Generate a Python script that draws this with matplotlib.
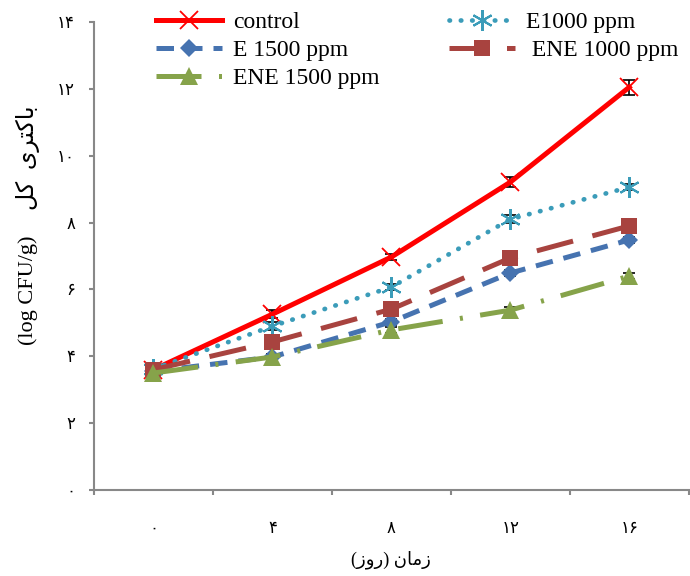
import matplotlib
matplotlib.use("Agg")
import matplotlib.pyplot as plt
from matplotlib.ticker import FixedLocator

plt.rcParams['font.family'] = ['Liberation Serif', 'DejaVu Sans']

# days of storage (category axis) and persian tick labels
days = [0, 4, 8, 12, 16]
day_labels = ["\u06f0", "\u06f4", "\u06f8", "\u06f1\u06f2", "\u06f1\u06f6"]
y_ticks = [0, 2, 4, 6, 8, 10, 12, 14]
y_labels = ["\u06f0", "\u06f2", "\u06f4", "\u06f6", "\u06f8",
            "\u06f1\u06f0", "\u06f1\u06f2", "\u06f1\u06f4"]

control = [3.6, 5.26, 6.97, 9.21, 12.05]
control_err = [0.05, 0.12, 0.1, 0.15, 0.22]
e1000 = [3.62, 4.9, 6.07, 8.1, 9.06]
e1000_err = [0.05, 0.12, 0.1, 0.12, 0.1]
e1500 = [3.55, 3.98, 5.03, 6.49, 7.48]
e1500_err = [0.05, 0.08, 0.1, 0.1, 0.1]
ene1000 = [3.6, 4.43, 5.41, 6.94, 7.9]
ene1000_err = [0.05, 0.1, 0.1, 0.1, 0.1]
ene1500 = [3.5, 3.98, 4.79, 5.38, 6.4]
ene1500_err = [0.05, 0.1, 0.1, 0.1, 0.1]

# persian text written in visual order with presentation forms
xlabel = "(\u0632\u0648\u0631) \u0646\uFE8E\uFEE3\u0632"
ylabel_fa = "\uFEDE\uFB90  \uFBFC\uFEAE\uFE98\uFB90\uFE8E\uFE91"
ylabel_unit = "(log CFU/g)"

fig = plt.figure(figsize=(6.9, 5.76), dpi=100)
ax = fig.add_axes([0.1362, 0.1493, 0.862, 0.8125])

x = list(range(len(days)))

series = [
    ("control", control, control_err, dict(color="#FF0000", lw=3.6, ls="-",
                                          marker="x", ms=13, mew=1.3)),
    ("E1000 ppm", e1000, e1000_err, dict(color="#3B9CB9", lw=3.4, ls=(0, (0.1, 2.3)),
                                        dash_capstyle="round", marker=(6, 2, 0),
                                        ms=15, mew=1.5)),
    ("E 1500 ppm", e1500, e1500_err, dict(color="#4673B0", lw=3.6, ls=(0, (3.5, 2.2)),
                                         marker="D", ms=9, mew=0)),
    (" ENE 1000 ppm", ene1000, ene1000_err, dict(color="#A8433F", lw=3.6,
                                                ls=(0, (7.5, 4.0)),
                                                marker="s", ms=12, mew=0)),
    ("ENE 1500 ppm", ene1500, ene1500_err, dict(color="#86A34A", lw=3.6,
                                               ls=(0, (9.0, 3.5, 0.6, 3.5)),
                                               marker="^", ms=13, mew=0)),
]

handles = {}
for name, vals, err, style in series:
    ax.errorbar(x, vals, yerr=err, fmt="none", ecolor="black", elinewidth=1.2,
                capsize=4, capthick=1.2, zorder=2)
    line, = ax.plot(x, vals, label=name, zorder=3, **style)
    handles[name] = line

ax.set_xlim(-0.5, 4.5)
ax.set_ylim(0, 14)
ax.set_xticks(x)
ax.set_xticklabels(day_labels)
ax.xaxis.set_minor_locator(FixedLocator([i - 0.5 for i in range(len(days) + 1)]))
ax.tick_params(axis="x", which="major", length=0, pad=22, labelsize=12)
ax.tick_params(axis="x", which="minor", length=3.6, width=1.5, color="#888888",
               direction="out")
ax.set_yticks(y_ticks)
ax.set_yticklabels(y_labels)
ax.tick_params(axis="y", length=3.6, width=1.5, color="#888888", direction="out",
               pad=10, labelsize=12)

for side in ["top", "right"]:
    ax.spines[side].set_visible(False)
for side in ["left", "bottom"]:
    ax.spines[side].set_color("#888888")
    ax.spines[side].set_linewidth(1.5)

ax.set_xlabel(xlabel, fontsize=13, labelpad=10)
# y label in two parts: persian name above the unit
fig.text(28 / 690, 1 - 290 / 576, ylabel_unit, rotation=90, fontsize=16,
         ha="center", va="center")
fig.text(28 / 690, 1 - 158 / 576, ylabel_fa, rotation=90, fontsize=17,
         ha="center", va="center")

order = ["control", "E 1500 ppm", "ENE 1500 ppm", "E1000 ppm", " ENE 1000 ppm"]
fig.legend([handles[k] for k in order], order, loc="upper left",
           bbox_to_anchor=(0.226, 0.98), ncol=2, frameon=False, fontsize=17,
           handlelength=2.8, handletextpad=0.45, columnspacing=2.95,
           labelspacing=0.27, borderpad=0, borderaxespad=0)

fig.savefig("out.png", dpi=100)
